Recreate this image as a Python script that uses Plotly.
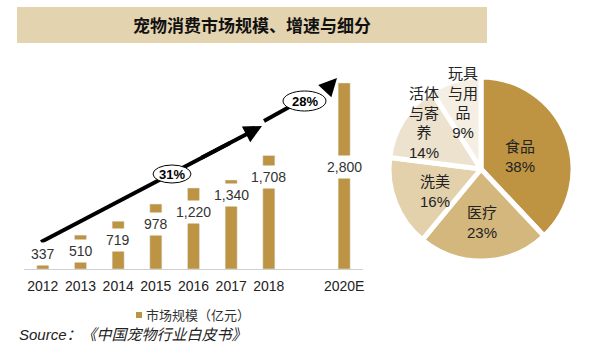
import plotly.graph_objects as go

# ---------------- data ----------------
years = ["2012", "2013", "2014", "2015", "2016", "2017", "2018", "2020E"]
market_size = [337, 510, 719, 978, 1220, 1340, 1708, 2800]
value_text = ["337", "510", "719", "978", "1,220", "1,340", "1,708", "2,800"]
axis_categories = ["2012", "2013", "2014", "2015", "2016", "2017", "2018", "2019", "2020E"]

growth_labels = ["31%", "28%"]

segments = ["食品", "医疗", "洗美", "活体与寄养", "玩具与用品"]
segment_share = [38, 23, 16, 14, 9]
segment_text = ["食品<br>38%", "医疗<br>23%", "洗美<br>16%",
                "活体<br>与寄<br>养<br>14%", "玩具<br>与用<br>品<br>9%"]

title_text = "宠物消费市场规模、增速与细分"
legend_text = "市场规模（亿元）"
source_text = "<i>Source：《中国宠物行业白皮书》</i>"

# ---------------- layout helpers ----------------
W, H = 592, 360
def px(x):
    return x / W
def py(y):
    return 1 - y / H

GOLD = "#BC9444"
pie_colors = ["#BE9443", "#D4B77D", "#E3D1AB", "#ECE2CE", "#F4EEE3"]
FONT = "Liberation Sans, Arial, Noto Sans CJK SC, sans-serif"

# label vertical positions (data units) for bar value boxes
label_y = [226, 271, 437, 677, 858, 1114, 1385, 1536]

fig = go.Figure()

fig.add_trace(go.Bar(
    x=years, y=market_size, marker_color=GOLD, width=0.32,
    showlegend=False, hoverinfo="skip",
))

fig.add_trace(go.Pie(
    labels=segments, values=segment_share, sort=False, direction="clockwise",
    rotation=0, textinfo="none", hoverinfo="skip", showlegend=False,
    marker=dict(colors=pie_colors, line=dict(color="white", width=5)),
    domain=dict(x=[px(389), px(573)], y=[py(261), py(77)]),
))

shapes = []
annotations = []

def note(x, y, text, size, color="#222222", family=FONT, xanchor="center", **kw):
    annotations.append(dict(xref="paper", yref="paper", x=px(x), y=py(y),
                            xanchor=xanchor, yanchor="middle", text=text,
                            showarrow=False, font=dict(family=family, size=size, color=color),
                            **kw))

# title banner
shapes.append(dict(type="rect", xref="paper", yref="paper",
                   x0=px(17), x1=px(487), y0=py(43), y1=py(7),
                   fillcolor="#E3D3AF", line=dict(width=0), layer="below"))
note(252, 25, "<b>" + title_text + "</b>", 17, "#111111", "Noto Sans CJK SC")

# bar value labels (x given as category index)
for yr, ly, t in zip(years, label_y, value_text):
    annotations.append(dict(xref="x", yref="y", x=axis_categories.index(yr), y=ly,
                            xanchor="center", yanchor="middle",
                            text=t, showarrow=False, bgcolor="white", borderpad=3,
                            font=dict(family=FONT, size=14, color="#333333")))

# growth arrows
LINE = dict(color="black", width=4)
shapes.append(dict(type="line", xref="paper", yref="paper",
                   x0=px(41), y0=py(242), x1=px(230), y1=py(143), line=LINE))
shapes.append(dict(type="circle", xref="paper", yref="paper",
                   x0=px(153), x1=px(191), y0=py(183), y1=py(165),
                   fillcolor="white", line=dict(color="black", width=1)))
annotations.append(dict(xref="paper", yref="paper", x=px(262), y=py(126),
                        ax=200 - 262, ay=158.5 - 126, axref="pixel", ayref="pixel",
                        text="", showarrow=True, arrowhead=2, arrowsize=0.9,
                        arrowwidth=4, arrowcolor="black"))
shapes.append(dict(type="line", xref="paper", yref="paper",
                   x0=px(264), y0=py(121), x1=px(300), y1=py(101), line=LINE))
shapes.append(dict(type="circle", xref="paper", yref="paper",
                   x0=px(283), x1=px(326), y0=py(111), y1=py(91),
                   fillcolor="white", line=dict(color="black", width=1)))
annotations.append(dict(xref="paper", yref="paper", x=px(337), y=py(78),
                        ax=324 - 337, ay=92 - 78, axref="pixel", ayref="pixel",
                        text="", showarrow=True, arrowhead=2, arrowsize=0.9,
                        arrowwidth=4, arrowcolor="black"))
for (cx, cy), g in zip([(172, 174), (304.5, 101)], growth_labels):
    note(cx, cy, "<b>" + g + "</b>", 13, "black")

# pie labels
pie_label_pos = [(520, 156), (482, 222), (435, 191), (424, 123), (463, 103)]
for (lx, ly), t in zip(pie_label_pos, segment_text):
    note(lx, ly, t, 15, "#222222", align="center")

# legend
shapes.append(dict(type="rect", xref="paper", yref="paper",
                   x0=px(136), x1=px(142), y0=py(318), y1=py(312),
                   fillcolor=GOLD, line=dict(width=0)))
note(144, 315, legend_text, 13, "#333333", xanchor="left")

# source
note(17, 334, source_text, 15, "#222222", xanchor="left")

fig.update_layout(
    width=W, height=H, margin=dict(l=0, r=0, t=0, b=0),
    paper_bgcolor="white", plot_bgcolor="white",
    shapes=shapes, annotations=annotations,
    xaxis=dict(domain=[px(24), px(363)], type="category",
               categoryorder="array", categoryarray=axis_categories,
               range=[-0.5, 8.5], tickvals=years, ticktext=years,
               showline=True, linecolor="#D0D0D0", linewidth=1,
               showgrid=False, ticks="", zeroline=False, ticklabelstandoff=4,
               tickfont=dict(family=FONT, size=14, color="#222222")),
    yaxis=dict(domain=[py(269), py(60)], range=[0, 3146],
               visible=False, showgrid=False, zeroline=False),
    bargap=0.68,
)

fig.write_html("out.html", config={"displayModeBar": False},
               post_script="document.body.style.margin='0';")
